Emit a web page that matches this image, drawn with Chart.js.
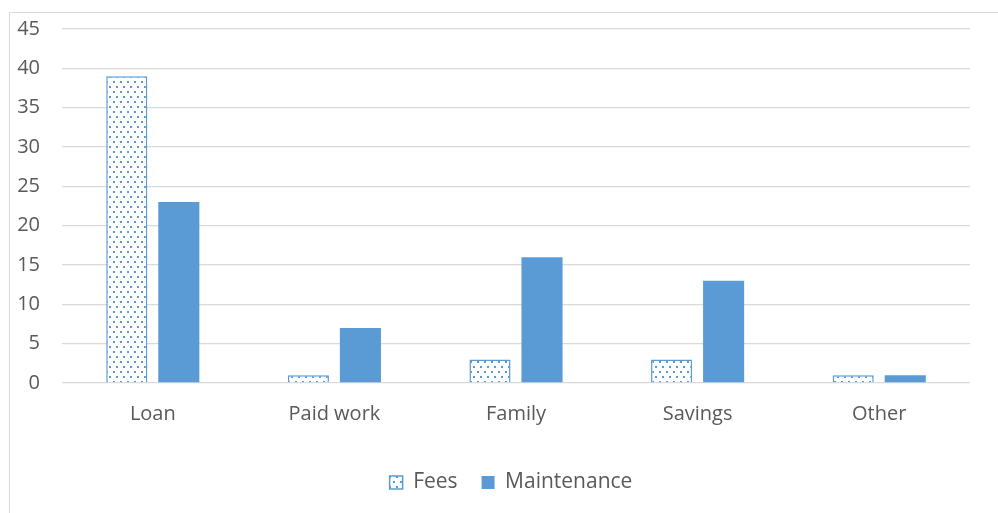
<!DOCTYPE html>
<html>
<head>
<meta charset="utf-8">
<script src="https://cdn.jsdelivr.net/npm/chart.js@4"></script>
<style>
  html, body { margin: 0; padding: 0; background: #fff; }
  #frame { position: absolute; left: 9px; top: 12px; width: 1100px; height: 600px; border: 1px solid #d9d9d9; }
  #wrap { position: absolute; left: 0; top: 0; width: 998px; height: 513px; }
</style>
</head>
<body>
<div id="frame"></div>
<div id="wrap"><canvas id="chart"></canvas></div>
<script>
// chart data
const categories = ['Loan', 'Paid work', 'Family', 'Savings', 'Other'];
const fees = [39, 1, 3, 3, 1];
const maintenance = [23, 7, 16, 13, 1];
const yTicks = [0, 5, 10, 15, 20, 25, 30, 35, 40, 45];

const blue = '#5b9bd5';

// dotted fill for the Fees bars
function dotPattern() {
  const c = document.createElement('canvas');
  c.width = 7;
  c.height = 10;
  const p = c.getContext('2d');
  p.fillStyle = '#fff';
  p.fillRect(0, 0, 7, 10);
  p.fillStyle = blue;
  p.fillRect(1, 1, 2, 2);
  p.fillRect(4, 6, 2, 2);
  return p.createPattern(c, 'repeat');
}
const dots = dotPattern();

// nudge the legend to the right, like the original
const legendShift = {
  id: 'legendShift',
  afterLayout(chart) {
    if (chart.legend) {
      chart.legend.left += 26;
      chart.legend.right += 26;
    }
  }
};

const ctx = document.getElementById('chart').getContext('2d');
new Chart(ctx, {
  type: 'bar',
  data: {
    labels: categories,
    datasets: [
      {
        label: 'Fees',
        data: fees,
        backgroundColor: dots,
        borderColor: blue,
        borderWidth: 1.5,
        barPercentage: 0.79,
        categoryPercentage: 0.573
      },
      {
        label: 'Maintenance',
        data: maintenance,
        backgroundColor: blue,
        borderWidth: 0,
        barPercentage: 0.79,
        categoryPercentage: 0.573
      }
    ]
  },
  options: {
    responsive: true,
    maintainAspectRatio: false,
    animation: false,
    layout: {padding: {left: 0, right: 28, top: 29, bottom: 10}},
    plugins: {
      tooltip: {enabled: false},
      legend: {
        position: 'bottom',
        labels: {
          boxWidth: 13,
          boxHeight: 13,
          padding: 24,
          color: '#595959',
          font: {family: 'Open Sans', size: 21}
        }
      }
    },
    scales: {
      x: {
        grid: {display: false},
        border: {display: false},
        afterFit(scale) { scale.height = 65; },
        ticks: {color: '#595959', font: {family: 'Open Sans', size: 20}, padding: 11}
      },
      y: {
        min: 0,
        max: 45,
        afterFit(scale) {
          scale.width = 62;
          scale.paddingTop = 0;
          scale.paddingBottom = 0;
        },
        afterBuildTicks(scale) { scale.ticks = yTicks.map(v => ({value: v})); },
        grid: {color: '#d9d9d9', lineWidth: 1.3, drawTicks: false},
        border: {display: false},
        ticks: {color: '#595959', font: {family: 'Open Sans', size: 20}, padding: 22}
      }
    }
  },
  plugins: [legendShift]
});
</script>
</body>
</html>
